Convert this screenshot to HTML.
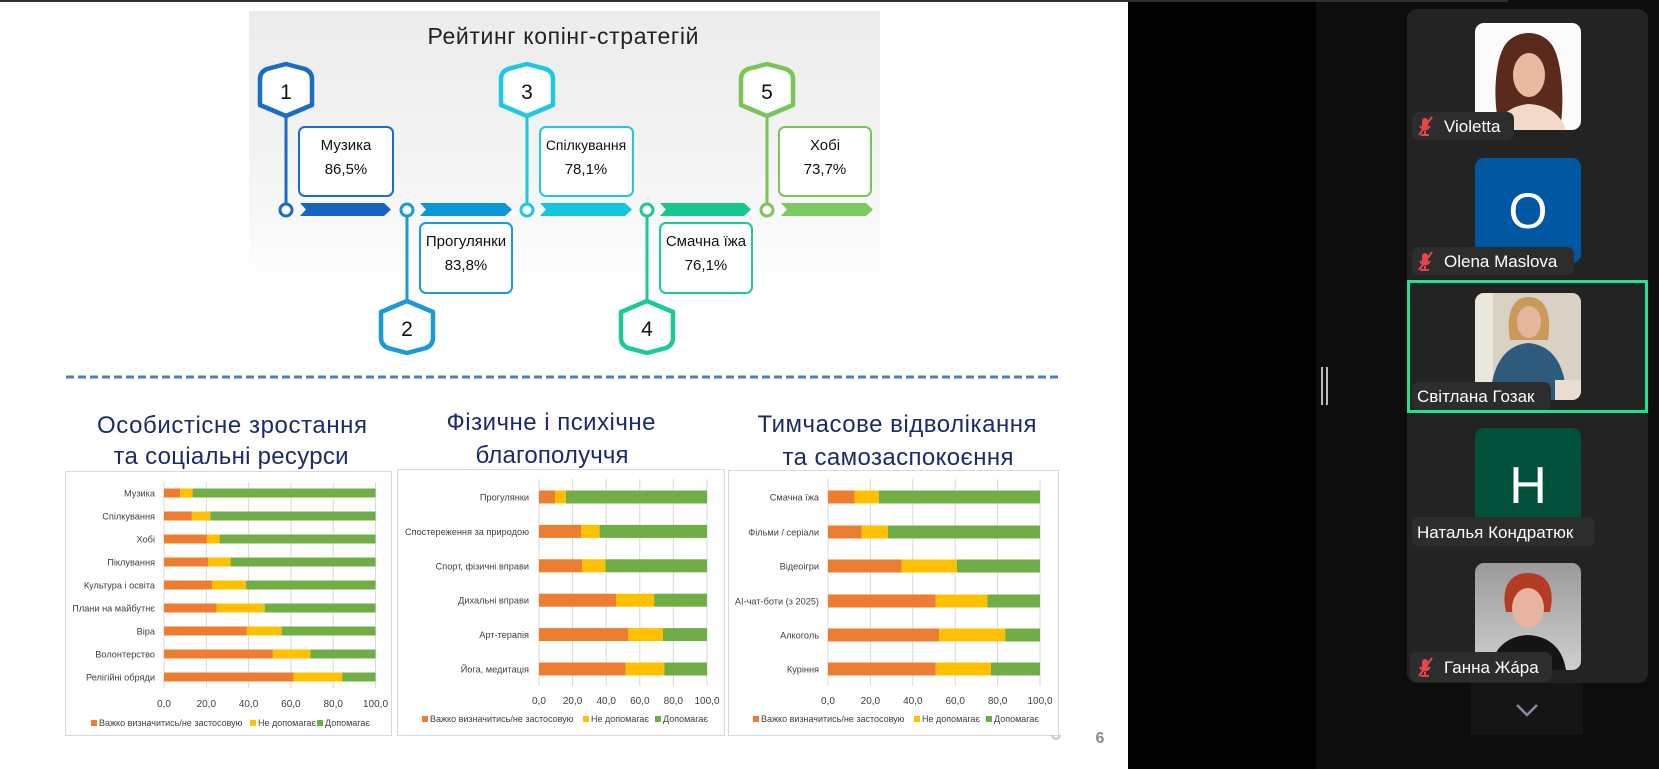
<!DOCTYPE html>
<html><head><meta charset="utf-8">
<style>
html,body{margin:0;padding:0;background:#0d0d0d;}
body{width:1659px;height:769px;overflow:hidden;}
svg{display:block;}
text{font-family:"Liberation Sans",sans-serif;}
</style></head><body>
<svg width="1659" height="769" viewBox="0 0 1659 769" xmlns="http://www.w3.org/2000/svg">
<defs>
<linearGradient id="gbg" x1="0" y1="0" x2="0" y2="1">
<stop offset="0" stop-color="#ececec"/><stop offset="0.6" stop-color="#f4f4f4"/><stop offset="1" stop-color="#fdfdfd"/>
</linearGradient>
<linearGradient id="hbg" x1="0" y1="0" x2="0" y2="1">
<stop offset="0" stop-color="#9a9a9a"/><stop offset="1" stop-color="#cfcfcf"/>
</linearGradient>
<clipPath id="c1"><rect x="1475" y="23" width="106" height="107" rx="9"/></clipPath>
<clipPath id="c3"><rect x="1475" y="293" width="106" height="107" rx="9"/></clipPath>
<clipPath id="c5"><rect x="1475" y="563" width="106" height="107" rx="9"/></clipPath>
</defs>

<!-- backgrounds -->
<rect x="0" y="0" width="1659" height="769" fill="#0d0d0d"/>
<rect x="1128" y="0" width="188" height="769" fill="#000"/>
<rect x="0" y="0" width="1128" height="769" fill="#fff"/>
<rect x="0" y="0" width="1508" height="2" fill="#2c2f33"/>

<!-- infographic box -->
<rect x="249" y="11" width="631" height="262" fill="url(#gbg)"/>
<text x="563" y="44" font-size="23" fill="#222" text-anchor="middle" textLength="271">Рейтинг копінг-стратегій</text>

<!-- arrows -->
<path d="M300,203 L384,203 L391,209.5 L384,216 L300,216 L306,209.5Z" fill="#1565c0"/>
<path d="M420,203 L505,203 L512,209.5 L505,216 L420,216 L426,209.5Z" fill="#0b96d6"/>
<path d="M540,203 L625,203 L632,209.5 L625,216 L540,216 L546,209.5Z" fill="#13c6dc"/>
<path d="M660,203 L744,203 L751,209.5 L744,216 L660,216 L666,209.5Z" fill="#17c78f"/>
<path d="M781,203 L866,203 L873,209.5 L866,216 L781,216 L787,209.5Z" fill="#7cc862"/>

<!-- connectors -->
<g stroke-width="3" fill="#fff">
<line x1="286" y1="117" x2="286" y2="204" stroke="#1a6cc4"/>
<circle cx="286" cy="210" r="6" stroke="#1a6cc4"/>
<line x1="407" y1="216" x2="407" y2="300" stroke="#1a9ad6"/>
<circle cx="407" cy="210" r="6" stroke="#1a9ad6"/>
<line x1="527" y1="117" x2="527" y2="204" stroke="#1ec8e0"/>
<circle cx="527" cy="210" r="6" stroke="#1ec8e0"/>
<line x1="647" y1="216" x2="647" y2="300" stroke="#1cc99a"/>
<circle cx="647" cy="210" r="6" stroke="#1cc99a"/>
<line x1="767" y1="117" x2="767" y2="204" stroke="#7ac55a"/>
<circle cx="767" cy="210" r="6" stroke="#7ac55a"/>
</g>

<!-- hexes -->
<g stroke-width="4.5" fill="#fff" stroke-linejoin="round">
<path transform="translate(257,63)" d="M3,16 Q3,9 10,6 L29,1 L48,6 Q55,9 55,16 L55,42 L29,53 L3,42 Z" stroke="#1a6cc4"/>
<path transform="translate(498,63)" d="M3,16 Q3,9 10,6 L29,1 L48,6 Q55,9 55,16 L55,42 L29,53 L3,42 Z" stroke="#1ec8e0"/>
<path transform="translate(738,63)" d="M3,16 Q3,9 10,6 L29,1 L48,6 Q55,9 55,16 L55,42 L29,53 L3,42 Z" stroke="#7ac55a"/>
<path transform="translate(378,299)" d="M3,39 Q3,46 10,49 L29,54 L48,49 Q55,46 55,39 L55,13 L29,2 L3,13 Z" stroke="#1a9ad6"/>
<path transform="translate(618,299)" d="M3,39 Q3,46 10,49 L29,54 L48,49 Q55,46 55,39 L55,13 L29,2 L3,13 Z" stroke="#1cc99a"/>
</g>
<g font-size="21" fill="#111" text-anchor="middle">
<text x="286" y="99">1</text>
<text x="527" y="99">3</text>
<text x="767" y="99">5</text>
<text x="407" y="336">2</text>
<text x="647" y="336">4</text>
</g>

<!-- boxes -->
<g fill="#fff" stroke-width="2">
<rect x="299" y="127" width="94" height="69" rx="6" stroke="#1a6cc4"/>
<rect x="420" y="223" width="92" height="70" rx="6" stroke="#1a9ad6"/>
<rect x="540" y="127" width="93" height="69" rx="6" stroke="#1ec8e0"/>
<rect x="660" y="223" width="92" height="70" rx="6" stroke="#1cc99a"/>
<rect x="779" y="127" width="92" height="69" rx="6" stroke="#7ac55a"/>
</g>
<g font-size="15" fill="#111" text-anchor="middle">
<text x="346" y="150">Музика</text><text x="346" y="174">86,5%</text>
<text x="466" y="246">Прогулянки</text><text x="466" y="270">83,8%</text>
<text x="586" y="150" font-size="14">Спілкування</text><text x="586" y="174">78,1%</text>
<text x="706" y="246">Смачна їжа</text><text x="706" y="270">76,1%</text>
<text x="825" y="150">Хобі</text><text x="825" y="174">73,7%</text>
</g>

<!-- dashed line -->
<line x1="66" y1="377" x2="1062" y2="377" stroke="#4f7cbc" stroke-width="3" stroke-dasharray="8,4"/>

<!-- section titles -->
<g font-size="24" fill="#1c2a6b" text-anchor="middle">
<text x="232" y="433" textLength="270">Особистісне зростання</text>
<text x="231" y="464" textLength="235">та соціальні ресурси</text>
<text x="551" y="430" textLength="209">Фізичне і психічне</text>
<text x="552" y="463" textLength="153">благополуччя</text>
<text x="897" y="432" textLength="279">Тимчасове відволікання</text>
<text x="898" y="465" textLength="231">та самозаспокоєння</text>
</g>

<!-- chart panels -->
<g fill="#fff" stroke="#d9d9d9" stroke-width="1">
<rect x="65.5" y="471.5" width="326" height="264"/>
<rect x="397.5" y="469.5" width="327" height="266"/>
<rect x="728.5" y="470.5" width="330" height="265"/>
</g>

<!-- chart 1 -->
<g stroke="#d9d9d9" stroke-width="1">
<line x1="164" y1="482" x2="164" y2="688"/><line x1="206.3" y1="482" x2="206.3" y2="688"/>
<line x1="248.6" y1="482" x2="248.6" y2="688"/><line x1="290.9" y1="482" x2="290.9" y2="688"/>
<line x1="333.2" y1="482" x2="333.2" y2="688"/><line x1="375.5" y1="482" x2="375.5" y2="688"/>
</g>
<g>
<rect x="164" y="488.5" width="16.1" height="9" fill="#ed7d31"/><rect x="180.1" y="488.5" width="12.5" height="9" fill="#ffc000"/><rect x="192.6" y="488.5" width="182.9" height="9" fill="#70ad47"/>
<rect x="164" y="511.5" width="27.9" height="9" fill="#ed7d31"/><rect x="191.9" y="511.5" width="18.4" height="9" fill="#ffc000"/><rect x="210.3" y="511.5" width="165.2" height="9" fill="#70ad47"/>
<rect x="164" y="534.5" width="42.9" height="9" fill="#ed7d31"/><rect x="206.9" y="534.5" width="12.7" height="9" fill="#ffc000"/><rect x="219.6" y="534.5" width="155.9" height="9" fill="#70ad47"/>
<rect x="164" y="557.5" width="44.4" height="9" fill="#ed7d31"/><rect x="208.4" y="557.5" width="22.2" height="9" fill="#ffc000"/><rect x="230.6" y="557.5" width="144.9" height="9" fill="#70ad47"/>
<rect x="164" y="580.5" width="48" height="9" fill="#ed7d31"/><rect x="212" y="580.5" width="34.1" height="9" fill="#ffc000"/><rect x="246.1" y="580.5" width="129.4" height="9" fill="#70ad47"/>
<rect x="164" y="603.5" width="52.7" height="9" fill="#ed7d31"/><rect x="216.7" y="603.5" width="48" height="9" fill="#ffc000"/><rect x="264.7" y="603.5" width="110.8" height="9" fill="#70ad47"/>
<rect x="164" y="626.5" width="82.9" height="9" fill="#ed7d31"/><rect x="246.9" y="626.5" width="34.7" height="9" fill="#ffc000"/><rect x="281.6" y="626.5" width="93.9" height="9" fill="#70ad47"/>
<rect x="164" y="649.5" width="108.9" height="9" fill="#ed7d31"/><rect x="272.9" y="649.5" width="37.5" height="9" fill="#ffc000"/><rect x="310.4" y="649.5" width="65.1" height="9" fill="#70ad47"/>
<rect x="164" y="672.5" width="129.6" height="9" fill="#ed7d31"/><rect x="293.6" y="672.5" width="48.7" height="9" fill="#ffc000"/><rect x="342.3" y="672.5" width="33.2" height="9" fill="#70ad47"/>
</g>
<g font-size="9.2" fill="#404040" text-anchor="end">
<text x="155" y="496.5">Музика</text><text x="155" y="519.5">Спілкування</text><text x="155" y="542.5">Хобі</text>
<text x="155" y="565.5">Піклування</text><text x="155" y="588.5">Культура і освіта</text><text x="155" y="611.5">Плани на майбутнє</text>
<text x="155" y="634.5">Віра</text><text x="155" y="657.5">Волонтерство</text><text x="155" y="680.5">Релігійні обряди</text>
</g>
<g font-size="10" fill="#404040" text-anchor="middle">
<text x="164" y="707">0,0</text><text x="206.3" y="707">20,0</text><text x="248.6" y="707">40,0</text>
<text x="290.9" y="707">60,0</text><text x="333.2" y="707">80,0</text><text x="375.5" y="707">100,0</text>
</g>
<g font-size="9" fill="#404040">
<rect x="91" y="720" width="6" height="6" fill="#ed7d31"/><text x="99" y="726">Важко визначитись/не застосовую</text>
<rect x="250" y="720" width="6" height="6" fill="#ffc000"/><text x="258" y="726">Не допомагає</text>
<rect x="317" y="720" width="6" height="6" fill="#70ad47"/><text x="325" y="726">Допомагає</text>
</g>

<!-- chart 2 -->
<g stroke="#d9d9d9" stroke-width="1">
<line x1="539" y1="479" x2="539" y2="686"/><line x1="572.6" y1="479" x2="572.6" y2="686"/>
<line x1="606.2" y1="479" x2="606.2" y2="686"/><line x1="639.8" y1="479" x2="639.8" y2="686"/>
<line x1="673.4" y1="479" x2="673.4" y2="686"/><line x1="707" y1="479" x2="707" y2="686"/>
</g>
<g>
<rect x="539" y="490.5" width="16" height="13" fill="#ed7d31"/><rect x="555" y="490.5" width="10.9" height="13" fill="#ffc000"/><rect x="565.9" y="490.5" width="141.1" height="13" fill="#70ad47"/>
<rect x="539" y="524.9" width="42.3" height="13" fill="#ed7d31"/><rect x="581.3" y="524.9" width="18.3" height="13" fill="#ffc000"/><rect x="599.6" y="524.9" width="107.4" height="13" fill="#70ad47"/>
<rect x="539" y="559.3" width="43" height="13" fill="#ed7d31"/><rect x="582" y="559.3" width="23.4" height="13" fill="#ffc000"/><rect x="605.4" y="559.3" width="101.6" height="13" fill="#70ad47"/>
<rect x="539" y="593.7" width="77" height="13" fill="#ed7d31"/><rect x="616" y="593.7" width="38.1" height="13" fill="#ffc000"/><rect x="654.1" y="593.7" width="52.9" height="13" fill="#70ad47"/>
<rect x="539" y="628.1" width="89" height="13" fill="#ed7d31"/><rect x="628" y="628.1" width="35" height="13" fill="#ffc000"/><rect x="663" y="628.1" width="44" height="13" fill="#70ad47"/>
<rect x="539" y="662.5" width="86.7" height="13" fill="#ed7d31"/><rect x="625.7" y="662.5" width="38.6" height="13" fill="#ffc000"/><rect x="664.3" y="662.5" width="42.7" height="13" fill="#70ad47"/>
</g>
<g font-size="9.2" fill="#404040" text-anchor="end">
<text x="529" y="500.5">Прогулянки</text><text x="529" y="534.9">Спостереження за природою</text><text x="529" y="569.3">Спорт, фізичні вправи</text>
<text x="529" y="603.7">Дихальні вправи</text><text x="529" y="638.1">Арт-терапія</text><text x="529" y="672.5">Йога, медитація</text>
</g>
<g font-size="10" fill="#404040" text-anchor="middle">
<text x="539" y="704">0,0</text><text x="572.6" y="704">20,0</text><text x="606.2" y="704">40,0</text>
<text x="639.8" y="704">60,0</text><text x="673.4" y="704">80,0</text><text x="707" y="704">100,0</text>
</g>
<g font-size="9" fill="#404040">
<rect x="422" y="716" width="6" height="6" fill="#ed7d31"/><text x="430" y="722">Важко визначитись/не застосовую</text>
<rect x="583" y="716" width="6" height="6" fill="#ffc000"/><text x="591" y="722">Не допомагає</text>
<rect x="655" y="716" width="6" height="6" fill="#70ad47"/><text x="663" y="722">Допомагає</text>
</g>

<!-- chart 3 -->
<g stroke="#d9d9d9" stroke-width="1">
<line x1="828" y1="479" x2="828" y2="686"/><line x1="870.4" y1="479" x2="870.4" y2="686"/>
<line x1="912.8" y1="479" x2="912.8" y2="686"/><line x1="955.2" y1="479" x2="955.2" y2="686"/>
<line x1="997.6" y1="479" x2="997.6" y2="686"/><line x1="1040" y1="479" x2="1040" y2="686"/>
</g>
<g>
<rect x="828" y="490.5" width="26.7" height="13" fill="#ed7d31"/><rect x="854.7" y="490.5" width="24.2" height="13" fill="#ffc000"/><rect x="878.9" y="490.5" width="161.1" height="13" fill="#70ad47"/>
<rect x="828" y="525.5" width="33.7" height="13" fill="#ed7d31"/><rect x="861.7" y="525.5" width="26.1" height="13" fill="#ffc000"/><rect x="887.8" y="525.5" width="152.2" height="13" fill="#70ad47"/>
<rect x="828" y="559.5" width="73.8" height="13" fill="#ed7d31"/><rect x="901.8" y="559.5" width="55.1" height="13" fill="#ffc000"/><rect x="956.9" y="559.5" width="83.1" height="13" fill="#70ad47"/>
<rect x="828" y="594.5" width="107.7" height="13" fill="#ed7d31"/><rect x="935.7" y="594.5" width="51.7" height="13" fill="#ffc000"/><rect x="987.4" y="594.5" width="52.6" height="13" fill="#70ad47"/>
<rect x="828" y="628.5" width="111.3" height="13" fill="#ed7d31"/><rect x="939.3" y="628.5" width="65.9" height="13" fill="#ffc000"/><rect x="1005.2" y="628.5" width="34.8" height="13" fill="#70ad47"/>
<rect x="828" y="662.5" width="107.7" height="13" fill="#ed7d31"/><rect x="935.7" y="662.5" width="55.3" height="13" fill="#ffc000"/><rect x="991" y="662.5" width="49" height="13" fill="#70ad47"/>
</g>
<g font-size="9.2" fill="#404040" text-anchor="end">
<text x="819" y="500.5">Смачна їжа</text><text x="819" y="535.5">Фільми / серіали</text><text x="819" y="569.5">Відеоігри</text>
<text x="819" y="604.5">AI-чат-боти (з 2025)</text><text x="819" y="638.5">Алкоголь</text><text x="819" y="672.5">Куріння</text>
</g>
<g font-size="10" fill="#404040" text-anchor="middle">
<text x="828" y="704">0,0</text><text x="870.4" y="704">20,0</text><text x="912.8" y="704">40,0</text>
<text x="955.2" y="704">60,0</text><text x="997.6" y="704">80,0</text><text x="1040" y="704">100,0</text>
</g>
<g font-size="9" fill="#404040">
<rect x="753" y="716" width="6" height="6" fill="#ed7d31"/><text x="761" y="722">Важко визначитись/не застосовую</text>
<rect x="914" y="716" width="6" height="6" fill="#ffc000"/><text x="922" y="722">Не допомагає</text>
<rect x="986" y="716" width="6" height="6" fill="#70ad47"/><text x="994" y="722">Допомагає</text>
</g>

<!-- page number -->
<path d="M1052,735 A4,4 0 0 0 1060,735" stroke="#bbb" stroke-width="1.5" fill="none"/>
<text x="1100" y="743" font-size="16" font-weight="bold" fill="#8a8a8a" text-anchor="middle">6</text>

<!-- right side: splitter -->
<rect x="1321" y="367" width="2" height="38" fill="#bdbdbd"/>
<rect x="1326" y="367" width="2" height="38" fill="#bdbdbd"/>

<!-- participants panel -->
<rect x="1407" y="9" width="241" height="674" rx="10" fill="#232323"/>
<rect x="1471" y="683" width="112" height="52" fill="#151515"/>
<polyline points="1517,705 1527,715 1537,705" fill="none" stroke="#8a8aa0" stroke-width="2.5"/>

<!-- avatar 1 Violetta -->
<g clip-path="url(#c1)">
<rect x="1475" y="23" width="106" height="107" fill="#fbfbfb"/>
<path d="M1500,130 C1492,100 1495,60 1505,45 C1515,30 1540,28 1552,45 C1562,60 1565,100 1560,130 Z" fill="#5a2a1c"/>
<ellipse cx="1529" cy="75" rx="16" ry="22" fill="#e9b9a2"/>
<path d="M1495,130 C1500,112 1515,105 1529,104 C1545,105 1560,112 1566,130 Z" fill="#f1dac9"/>
</g>
<!-- avatar 2 Olena -->
<rect x="1475" y="158" width="106" height="105" rx="9" fill="#0058a3"/>
<text x="1528" y="228" font-size="50" fill="#fff" text-anchor="middle">O</text>
<!-- avatar 3 Svitlana -->
<g clip-path="url(#c3)">
<rect x="1475" y="293" width="106" height="107" fill="#d9d2c4"/>
<rect x="1475" y="293" width="18" height="107" fill="#ece7dc"/>
<path d="M1510,340 C1505,310 1515,297 1528,297 C1545,297 1552,312 1548,340 Z" fill="#c99a5c"/>
<ellipse cx="1529" cy="322" rx="12" ry="16" fill="#e5b59c"/>
<path d="M1490,400 C1492,360 1508,345 1528,343 C1550,345 1565,360 1567,400 Z" fill="#2e5a7e"/>
<rect x="1555" y="380" width="26" height="20" fill="#e8ddd0"/>
</g>
<!-- green selected border -->
<rect x="1408.5" y="281.5" width="238" height="130" fill="none" stroke="#20e38d" stroke-width="3"/>
<!-- avatar 4 Natalya -->
<rect x="1475" y="428" width="106" height="107" rx="9" fill="#00503c"/>
<text x="1528" y="503" font-size="52" fill="#fff" text-anchor="middle">H</text>
<!-- avatar 5 Hanna -->
<g clip-path="url(#c5)">
<rect x="1475" y="563" width="106" height="107" fill="url(#hbg)"/>
<path d="M1506,612 C1500,585 1512,573 1528,573 C1545,573 1556,585 1550,612 Z" fill="#b43c22"/>
<ellipse cx="1528" cy="608" rx="16" ry="20" fill="#e8b3a0"/>
<path d="M1490,670 C1494,645 1510,636 1528,635 C1546,636 1562,645 1566,670 Z" fill="#141414"/>
</g>

<!-- name labels -->
<g fill="#2d2d2d">
<rect x="1412" y="112" width="102" height="28" rx="7"/>
<rect x="1412" y="247" width="162" height="28" rx="7"/>
<rect x="1412" y="382" width="139" height="28" rx="7"/>
<rect x="1412" y="517" width="183" height="29" rx="7"/>
<rect x="1410" y="652" width="142" height="30" rx="7"/>
</g>
<g stroke="#e5464b" stroke-width="2" fill="none">
<g transform="translate(1418,117)"><rect x="4" y="1" width="6" height="11" rx="3" fill="#e5464b" stroke="none"/><path d="M2,9 Q7,16 12,9 M7,14 L7,18 M3,18 L11,18"/><line x1="1" y1="18" x2="14" y2="0"/></g>
<g transform="translate(1418,252)"><rect x="4" y="1" width="6" height="11" rx="3" fill="#e5464b" stroke="none"/><path d="M2,9 Q7,16 12,9 M7,14 L7,18 M3,18 L11,18"/><line x1="1" y1="18" x2="14" y2="0"/></g>
<g transform="translate(1418,658)"><rect x="4" y="1" width="6" height="11" rx="3" fill="#e5464b" stroke="none"/><path d="M2,9 Q7,16 12,9 M7,14 L7,18 M3,18 L11,18"/><line x1="1" y1="18" x2="14" y2="0"/></g>
</g>
<g font-size="17" fill="#fff">
<text x="1444" y="132">Violetta</text>
<text x="1444" y="267">Olena Maslova</text>
<text x="1417" y="402">Світлана Гозак</text>
<text x="1417" y="538">Наталья Кондратюк</text>
<text x="1444" y="673">Ганна Жáра</text>
</g>
</svg>
</body></html>
